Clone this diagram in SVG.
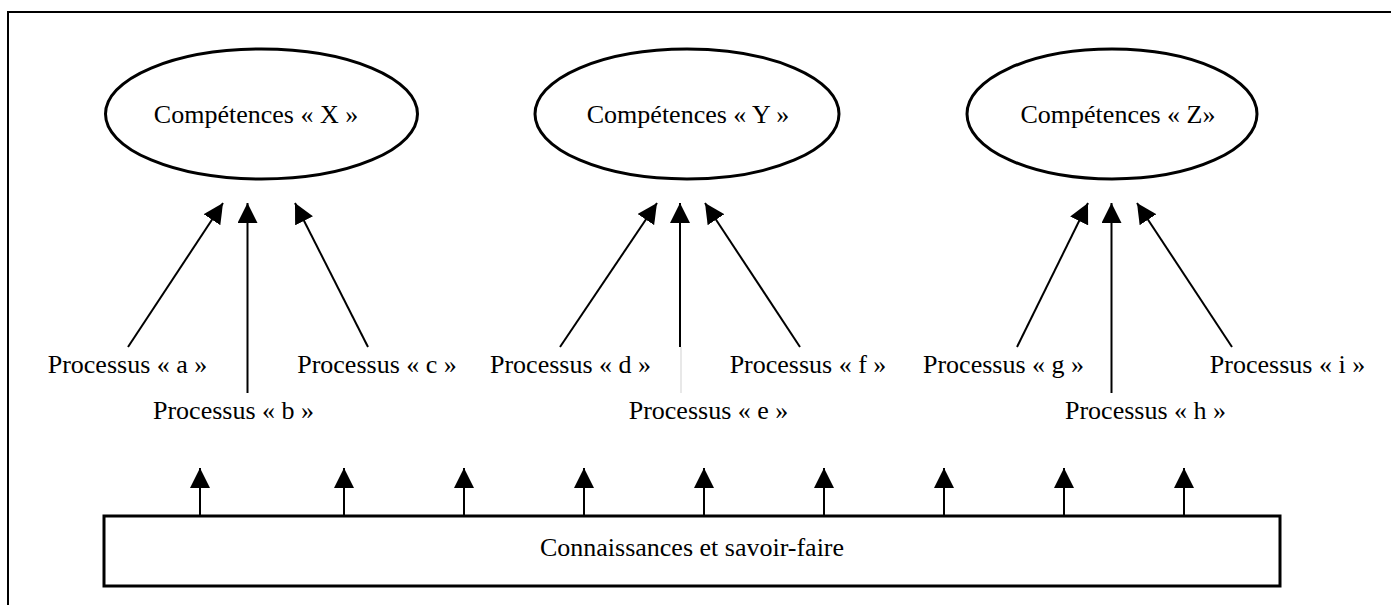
<svg xmlns="http://www.w3.org/2000/svg" width="1391" height="605" viewBox="0 0 1391 605">
<defs>
<style>
text{font-family:"Liberation Serif","Times New Roman",serif;font-size:26px;fill:#000;text-anchor:middle}
.ell{fill:#fff;stroke:#000;stroke-width:3}
.ln{stroke:#000;stroke-width:2;fill:none}
</style>
<marker id="ah" markerUnits="userSpaceOnUse" markerWidth="20" markerHeight="20" refX="20" refY="10" orient="auto" viewBox="0 0 20 20">
<path d="M0,0 L20,10 L0,20 z" fill="#000"/>
</marker>
</defs>
<rect width="1391" height="605" fill="#fff"/>
<path d="M8,605 V12 H1391" fill="none" stroke="#000" stroke-width="2"/>

<g id="comp-x"><ellipse class="ell" cx="261.5" cy="114" rx="156" ry="65"/><text x="256" y="123">Compétences « X »</text></g>
<g id="comp-y"><ellipse class="ell" cx="687" cy="114" rx="152" ry="65"/><text x="688" y="123">Compétences « Y »</text></g>
<g id="comp-z"><ellipse class="ell" cx="1112" cy="114" rx="145" ry="65"/><text x="1118" y="123">Compétences « Z»</text></g>

<g id="proc-a"><text x="127.5" y="373">Processus « a »</text></g>
<g id="proc-b"><text x="233.5" y="419">Processus « b »</text></g>
<g id="proc-c"><text x="377" y="373">Processus « c »</text></g>
<g id="proc-d"><text x="570.5" y="373">Processus « d »</text></g>
<g id="proc-e"><text x="708.5" y="419">Processus « e »</text></g>
<g id="proc-f"><text x="808" y="373">Processus « f »</text></g>
<g id="proc-g"><text x="1003.5" y="373">Processus « g »</text></g>
<g id="proc-h"><text x="1145.5" y="419">Processus « h »</text></g>
<g id="proc-i"><text x="1287.5" y="373">Processus « i »</text></g>

<g id="savoir"><rect x="104" y="516" width="1176" height="70" fill="#fff" stroke="#000" stroke-width="3"/><text x="692" y="556">Connaissances et savoir-faire</text></g>

<g id="connectors">
<line class="ln" x1="128" y1="347" x2="223" y2="203" marker-end="url(#ah)"/>
<line class="ln" x1="247.5" y1="393" x2="247.5" y2="203" marker-end="url(#ah)"/>
<line class="ln" x1="368" y1="347" x2="295" y2="203" marker-end="url(#ah)"/>
<line class="ln" x1="560" y1="347" x2="657" y2="203" marker-end="url(#ah)"/>
<line class="ln" x1="680" y1="347" x2="680" y2="203" marker-end="url(#ah)"/>
<line x1="681" y1="347" x2="681" y2="393" stroke="#e0e0e0" stroke-width="1.5"/>
<line class="ln" x1="800" y1="347" x2="705" y2="203" marker-end="url(#ah)"/>
<line class="ln" x1="1017" y1="347" x2="1088" y2="203" marker-end="url(#ah)"/>
<line class="ln" x1="1111.5" y1="393" x2="1111.5" y2="203" marker-end="url(#ah)"/>
<line class="ln" x1="1232" y1="347" x2="1137" y2="203" marker-end="url(#ah)"/>

<line class="ln" x1="200" y1="515" x2="200" y2="468" marker-end="url(#ah)"/>
<line class="ln" x1="344" y1="515" x2="344" y2="468" marker-end="url(#ah)"/>
<line class="ln" x1="464" y1="515" x2="464" y2="468" marker-end="url(#ah)"/>
<line class="ln" x1="584" y1="515" x2="584" y2="468" marker-end="url(#ah)"/>
<line class="ln" x1="704" y1="515" x2="704" y2="468" marker-end="url(#ah)"/>
<line class="ln" x1="824" y1="515" x2="824" y2="468" marker-end="url(#ah)"/>
<line class="ln" x1="944" y1="515" x2="944" y2="468" marker-end="url(#ah)"/>
<line class="ln" x1="1064" y1="515" x2="1064" y2="468" marker-end="url(#ah)"/>
<line class="ln" x1="1184" y1="515" x2="1184" y2="468" marker-end="url(#ah)"/>
</g>
</svg>
